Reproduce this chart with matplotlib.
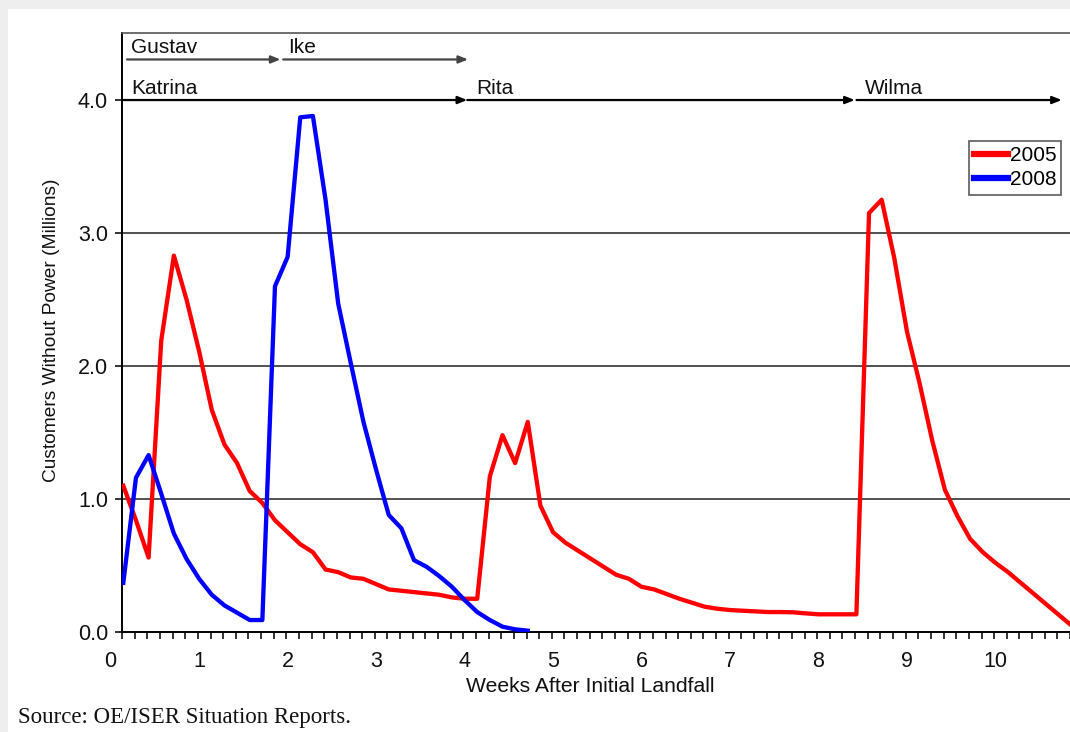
import numpy as np
import matplotlib
matplotlib.use("Agg")
import matplotlib.pyplot as plt
from matplotlib.patches import Rectangle

plt.rcParams['font.family'] = ['Liberation Sans', 'DejaVu Sans']

# customers without power (millions), one point per day after first landfall
days_2005 = list(range(1, 77))
out_2005 = [1.10, 0.84, 0.56, 2.19, 2.83, 2.50, 2.11, 1.67, 1.41, 1.27,
            1.06, 0.97, 0.84, 0.75, 0.66, 0.60, 0.47, 0.45, 0.41, 0.40,
            0.36, 0.32, 0.31, 0.30, 0.29, 0.28, 0.26, 0.25, 0.25, 1.17,
            1.48, 1.27, 1.58, 0.95, 0.75, 0.67, 0.61, 0.55, 0.49, 0.43,
            0.40, 0.34, 0.32, 0.285, 0.25, 0.22, 0.19, 0.175, 0.165, 0.16,
            0.155, 0.15, 0.15, 0.148, 0.14, 0.133, 0.133, 0.133, 0.133, 3.15,
            3.25, 2.81, 2.26, 1.87, 1.44, 1.07, 0.87, 0.70, 0.60, 0.52,
            0.45, 0.37, 0.29, 0.21, 0.13, 0.05]

days_2008 = list(range(1, 34))
out_2008 = [0.37, 1.16, 1.33, 1.04, 0.74, 0.55, 0.40, 0.28, 0.20, 0.145,
            0.09, 0.09, 2.60, 2.82, 3.87, 3.88, 3.25, 2.47, 2.02, 1.58,
            1.22, 0.88, 0.78, 0.54, 0.49, 0.42, 0.34, 0.24, 0.15, 0.09,
            0.04, 0.02, 0.01]

# hurricane periods (weeks): name, start, end
storms_2005 = [("Katrina", 0.13, 4.03), ("Rita", 4.03, 8.41), ("Wilma", 8.43, 10.75)]
storms_2008 = [("Gustav", 0.185, 1.92), ("Ike", 1.95, 4.04)]

week_labels = list(range(0, 11))
y_ticks = [0.0, 1.0, 2.0, 3.0, 4.0]

fig = plt.figure(figsize=(10.7, 7.32), dpi=100, facecolor='#eeeeee')
fig.patches.append(Rectangle((8 / 1070, 0), 1, 1 - 9 / 732, transform=fig.transFigure,
                             facecolor='white', edgecolor='none', zorder=-10))

ax = fig.add_axes([122 / 1070, 100 / 732, 1 - 122 / 1070, 599 / 732])
ax.set_facecolor('none')

w05 = np.array(days_2005) / 7
w08 = np.array(days_2008) / 7
ax.plot(w05, out_2005, color='#ff0000', lw=3.1, label='2005', zorder=4, solid_joinstyle='round')
ax.plot(w08, out_2008, color='#0000ff', lw=3.1, label='2008', zorder=5, solid_joinstyle='round')

ax.set_xlim(0.128, 10.80)
ax.set_ylim(0, 4.504)

for y in y_ticks[1:4]:
    ax.axhline(y, color='#222222', lw=1.1, zorder=1)

ax.spines['right'].set_visible(False)
ax.spines['top'].set_color('#555555')
ax.spines['top'].set_linewidth(1.2)
ax.spines['left'].set_linewidth(1.4)
ax.spines['bottom'].set_linewidth(1.4)

ax.set_yticks(y_ticks)
ax.set_yticklabels(['%.1f' % v for v in y_ticks], fontsize=15.5)
ax.tick_params(axis='y', length=5, width=1.2, pad=5, colors='#111111')

ax.set_xticks((np.arange(0, 76) + 0.9) / 7)
ax.set_xticklabels([])
ax.tick_params(axis='x', length=5, width=1.2, colors='#111111')

for w in week_labels:
    ax.annotate(str(w), xy=(w, 0), xycoords=('data', 'axes fraction'),
                xytext=(0, -21.5), textcoords='offset points',
                ha='center', va='center', fontsize=15.5, color='#111111',
                annotation_clip=False)

# storm arrows
def storm_arrow(x0, x1, y, color):
    ax.annotate('', xy=(x1, y), xytext=(x0, y), xycoords='data',
                arrowprops=dict(arrowstyle='-|>,head_length=0.55,head_width=0.22',
                                color=color, lw=1.6, shrinkA=0, shrinkB=0),
                annotation_clip=False, zorder=6)

for name, x0, x1 in storms_2005:
    storm_arrow(x0, x1, 4.0, '#000000')
    ax.text(x0 + 0.1, 4.09, name, fontsize=15, ha='left', va='center', color='#111111')
for name, x0, x1 in storms_2008:
    storm_arrow(x0, x1, 4.305, '#444444')
    ax.text(x0 + 0.05, 4.395, name, fontsize=15, ha='left', va='center', color='#111111')

leg = ax.legend(loc='upper left', bbox_to_anchor=((969 - 122) / 948, 1 - (141 - 33) / 599),
                fontsize=15, frameon=True, fancybox=False, borderpad=0.25,
                handlelength=1.6, handletextpad=0.1, labelspacing=0.25,
                borderaxespad=0)
leg.get_frame().set_edgecolor('#333333')
leg.get_frame().set_linewidth(1.2)
for line in leg.get_lines():
    line.set_linewidth(4.5)

fig.text(590 / 1070, 1 - 686 / 732, 'Weeks After Initial Landfall', fontsize=15.2,
         ha='center', va='center', color='#111111')
fig.text(52 / 1070, 1 - 330 / 732, 'Customers Without Power (Millions)', fontsize=13.8,
         rotation=90, ha='center', va='center', color='#111111')
fig.text(18 / 1070, 1 - 718 / 732, 'Source: OE/ISER Situation Reports.', fontsize=16.5,
         family=['Liberation Serif', 'DejaVu Serif'], ha='left', va='center', color='#111111')

fig.savefig('out.png', dpi=100, facecolor=fig.get_facecolor())
